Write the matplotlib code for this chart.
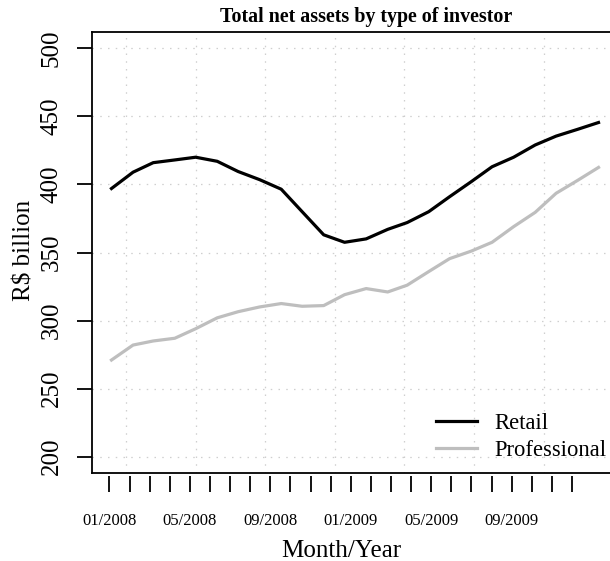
import numpy as np
import matplotlib
matplotlib.use("Agg")
import matplotlib.pyplot as plt

plt.rcParams['font.family'] = ['Liberation Serif', 'DejaVu Serif']

# monthly data, 01/2008 .. 12/2009 (R$ billion)
months = np.arange('2008-01', '2010-01', dtype='datetime64[M]')
retail = [397, 409, 416, 418, 420, 417, 409.5, 403.5, 396.5, 380, 363, 357.5,
          360, 367, 372, 380, 391, 402, 413, 420, 429, 435.5, 440.5, 445.5]
professional = [271, 282, 285, 287, 294, 302, 306.5, 310, 312.5, 310.5, 311, 319,
                323.5, 321, 326, 336, 345.5, 351, 357.5, 369, 379.5, 393.5, 403, 412.5]
tick_labels = ['01/2008', '05/2008', '09/2008', '01/2009', '05/2009', '09/2009']
yticks = [200, 250, 300, 350, 400, 450, 500]

# dates as day numbers, like R does
x = months.astype('datetime64[D]').astype(int)

W, H = 610, 561
fig = plt.figure(figsize=(W / 100, H / 100), dpi=100)
ax = fig.add_axes([92 / W, (H - 473) / H, 526 / W, 441 / H])

ax.plot(x, retail, color='black', lw=2.3, label='Retail', solid_joinstyle='round')
ax.plot(x, professional, color='#bebebe', lw=2.3, label='Professional',
        solid_joinstyle='round')

# R style 4% padding
rng = x[-1] - x[0]
ax.set_xlim(x[0] - 0.04 * rng, x[-1] + 0.04 * rng)
ax.set_ylim(188, 512)

# grid: every 100 days on x, at y ticks
for g in np.arange(13900, 14600, 100):
    ax.axvline(g, color='#cfcfcf', lw=0.9, dashes=(1.2, 5.0), zorder=0)
for g in yticks:
    ax.axhline(g, color='#cfcfcf', lw=0.9, dashes=(1.2, 5.0), zorder=0)

for s in ax.spines.values():
    s.set_linewidth(1.3)

ax.set_yticks(yticks)
ax.set_yticklabels([str(v) for v in yticks], rotation=90, va='center',
                   fontsize=18)
ax.tick_params(axis='y', length=11, width=1.3, pad=10)

# x ticks sit a little below the box
ax.set_xticks([])
sec = ax.secondary_xaxis(-0.007)
sec.spines['bottom'].set_visible(False)
tpos = np.linspace(13876, 14541, 24)
sec.set_xticks(tpos)
labs = [''] * 24
for i, t in enumerate(tick_labels):
    labs[i * 4] = t
sec.set_xticklabels(labs, fontsize=12)
sec.tick_params(axis='x', length=11.5, width=1.3, pad=15)

fig.text(366 / W, 1 - 22 / H, 'Total net assets by type of investor',
         ha='center', va='baseline', fontsize=14.4, fontweight='bold')
fig.text(341 / W, 1 - 557 / H, 'Month/Year', ha='center', va='baseline',
         fontsize=18)
fig.text(25 / W, 1 - 250 / H, 'R$ billion', ha='center', va='center',
         rotation=90, fontsize=18)

ax.legend(loc='upper left', bbox_to_anchor=(436 / W, 1 - 413 / H),
          bbox_transform=fig.transFigure, frameon=False, fontsize=16.3,
          handlelength=1.8, handletextpad=0.8, labelspacing=0.25,
          borderpad=0, borderaxespad=0)

fig.savefig('out.png', dpi=100)
